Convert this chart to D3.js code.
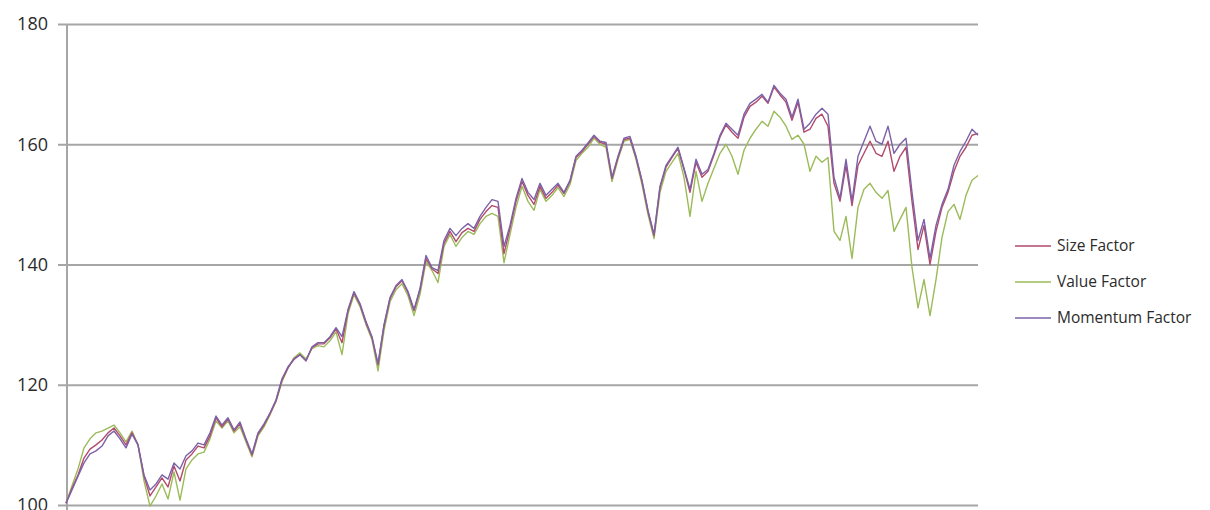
<!DOCTYPE html>
<html>
<head>
<meta charset="utf-8">
<script src="https://cdn.jsdelivr.net/npm/d3@7"></script>
<style>
  body { margin: 0; background: #fff; }
  .grid line { stroke: #a6a6a6; stroke-width: 2; }
  .tick text { font-family: "Open Sans", "Noto Sans", sans-serif; font-size: 18px; fill: #2b2b2b; }
  .legend text { font-family: "Open Sans", "Noto Sans", sans-serif; font-size: 15.5px; fill: #2b2b2b; }
  .series { fill: none; stroke-width: 1.4; stroke-linejoin: round; }
</style>
</head>
<body>
<script>
var width = 1210,
    height = 510;

var seriesNames = ["Size Factor", "Value Factor", "Momentum Factor"];
var seriesColors = ["#b24a6c", "#9bbb59", "#7b62a8"];
var yTicks = [100, 120, 140, 160, 180];

// values, one point per ~6px of the x range
var sizeFactor = [
  100.3,102.8,105.0,107.8,109.3,110.0,110.8,112.0,112.8,111.5,110.0,112.0,110.0,104.8,101.5,103.0,104.5,103.0,106.5,104.0,
  107.5,108.5,109.8,109.5,111.5,114.5,113.0,114.3,112.3,113.5,110.8,108.3,111.8,113.3,115.2,117.3,120.8,122.8,124.3,125.0,
  124.0,126.2,126.8,126.8,127.8,129.3,127.0,132.3,135.3,133.3,130.3,127.8,123.3,129.8,134.3,136.3,137.3,135.3,132.3,135.8,
  141.0,139.3,138.5,143.5,145.5,143.8,145.3,146.0,145.5,147.5,148.8,149.8,149.5,141.8,146.0,150.5,153.8,151.5,150.0,153.0,
  151.0,152.0,153.2,151.8,153.8,157.8,158.8,160.0,161.3,160.3,160.0,154.3,157.8,160.8,161.0,157.8,153.8,148.8,144.8,152.8,
  156.2,157.8,159.3,155.8,152.0,157.0,154.5,155.5,158.2,161.2,163.2,162.0,161.0,164.5,166.3,167.0,168.0,166.8,169.5,168.2,
  167.0,164.0,167.0,162.0,162.5,164.3,165.0,163.0,153.5,150.5,156.5,149.8,156.5,158.5,160.5,158.5,158.0,160.5,155.5,158.0,
  159.5,150.5,142.5,146.5,140.0,145.5,149.5,152.0,155.5,158.0,159.5,161.5,161.8
];
var valueFactor = [
  100.3,103.2,106.0,109.5,111.0,112.0,112.3,112.8,113.3,112.0,110.5,112.3,110.0,104.0,99.8,101.5,103.5,101.0,105.5,100.8,
  106.0,107.5,108.5,108.8,111.0,114.0,112.8,114.0,112.0,113.0,110.5,108.0,111.5,113.0,115.0,117.2,120.5,122.8,124.5,125.3,
  124.3,126.0,126.5,126.3,127.3,128.8,125.0,131.8,135.0,133.0,130.0,127.5,122.3,129.0,133.8,135.8,136.8,134.8,131.5,135.0,
  140.5,139.0,137.0,143.0,145.0,143.0,144.5,145.5,145.0,146.8,148.0,148.5,148.0,140.3,145.0,149.5,153.0,150.5,149.0,152.5,
  150.5,151.5,152.8,151.3,153.3,157.3,158.5,159.5,161.0,160.0,159.5,153.8,157.5,160.5,160.8,157.5,153.3,148.3,144.3,152.0,
  155.5,157.0,158.5,154.5,148.0,155.5,150.5,153.5,156.0,158.5,160.0,158.0,155.0,159.0,161.0,162.5,163.8,163.0,165.5,164.5,
  163.0,160.8,161.5,160.0,155.5,158.0,157.0,157.8,145.5,144.0,148.0,141.0,149.5,152.5,153.5,152.0,151.0,152.3,145.5,147.5,
  149.5,139.5,132.8,137.5,131.5,137.5,144.5,148.8,150.0,147.5,151.5,154.0,154.8
];
var momentumFactor = [
  100.3,102.5,104.8,107.0,108.5,109.0,109.8,111.5,112.3,111.0,109.5,111.8,110.0,105.0,102.5,103.5,105.0,104.3,107.0,106.0,
  108.2,109.0,110.3,110.0,112.0,114.8,113.3,114.5,112.5,113.8,111.0,108.5,112.0,113.5,115.3,117.5,121.0,123.0,124.2,125.0,
  124.0,126.3,127.0,127.0,128.0,129.5,128.0,132.5,135.5,133.5,130.5,128.0,123.5,130.0,134.5,136.5,137.5,135.5,132.5,136.0,
  141.5,139.5,139.0,144.0,146.0,144.8,146.0,146.8,146.0,148.0,149.5,150.8,150.5,143.0,146.5,151.0,154.3,152.0,150.8,153.5,
  151.5,152.5,153.5,152.0,154.0,158.0,159.0,160.2,161.5,160.5,160.3,154.5,158.0,161.0,161.3,158.0,154.0,149.0,145.0,153.0,
  156.5,158.0,159.5,156.0,152.5,157.5,155.0,155.8,158.5,161.5,163.5,162.5,161.5,165.0,166.8,167.5,168.3,167.0,169.8,168.5,
  167.5,164.5,167.5,162.5,163.5,165.0,166.0,165.0,154.5,151.0,157.5,150.5,158.0,160.5,163.0,160.5,160.0,163.0,158.5,160.0,
  161.0,152.0,144.0,147.5,141.0,146.5,150.0,152.5,156.5,158.8,160.5,162.5,161.5
];

var seriesValues = [sizeFactor, valueFactor, momentumFactor];

var margin = {left: 66, top: 24, right: 232, bottom: 5};

var x = d3.scaleLinear()
    .domain([0, momentumFactor.length - 1])
    .range([margin.left, width - margin.right]);

var y = d3.scaleLinear()
    .domain([100, 180])
    .range([height - margin.bottom, margin.top]);

var svg = d3.select("body").append("svg")
    .attr("width", width)
    .attr("height", height);

// horizontal gridlines + labels
var yAxis = d3.axisLeft(y)
    .tickValues(yTicks)
    .tickSize(-(width - margin.right - margin.left) - 8)
    .tickPadding(10);

svg.append("g")
    .attr("class", "grid")
    .attr("transform", "translate(" + (margin.left - 8) + ",0)")
    .call(yAxis)
    .call(function(g) { g.select(".domain").remove(); });

// vertical axis line
svg.append("line")
    .attr("x1", margin.left + 1).attr("x2", margin.left + 1)
    .attr("y1", y(180)).attr("y2", height)
    .attr("stroke", "#a6a6a6")
    .attr("stroke-width", 2);

var line = d3.line()
    .x(function(d, i) { return x(i); })
    .y(function(d) { return y(d); });

// value underneath, then size, momentum on top
[1, 0, 2].forEach(function(k) {
  svg.append("path")
      .datum(seriesValues[k])
      .attr("class", "series")
      .attr("stroke", seriesColors[k])
      .attr("d", line);
});

// legend
var legend = svg.append("g").attr("class", "legend");
seriesNames.forEach(function(name, k) {
  var ly = 246 + k * 36;
  legend.append("line")
      .attr("x1", 1015).attr("x2", 1051)
      .attr("y1", ly).attr("y2", ly)
      .attr("stroke", seriesColors[k])
      .attr("stroke-width", 1.5);
  legend.append("text")
      .attr("x", 1057).attr("y", ly)
      .attr("dy", "0.35em")
      .text(name);
});
</script>
</body>
</html>
